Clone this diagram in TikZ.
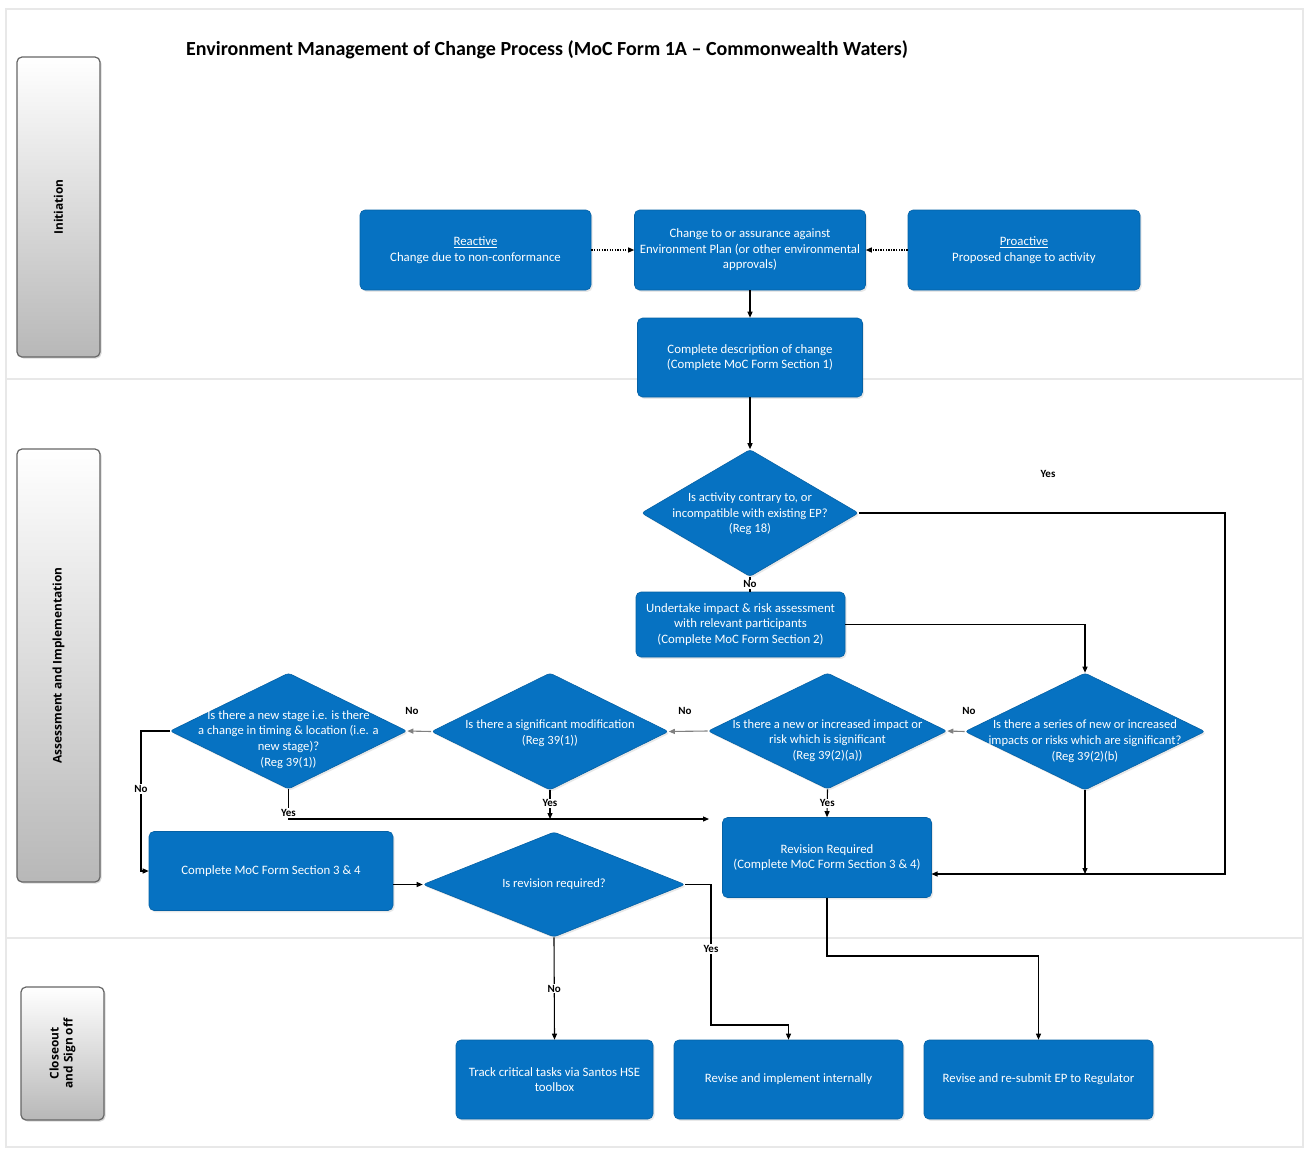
\documentclass[tikz,border=0pt]{standalone}
\usepackage{fontspec}
\setmainfont{Carlito}
\newfontfamily\lanefont{Open Sans}
\usetikzlibrary{shapes.geometric,arrows.meta,shadows}
\definecolor{boxblue}{RGB}{6,114,194}
\definecolor{laneedge}{RGB}{232,232,232}
\begin{document}
\begin{tikzpicture}[x=1pt,y=-1pt,
  bluebox/.style={rectangle, fill=boxblue, draw=boxblue!85!black, line width=0.6pt,
    rounded corners=5pt, text=white, align=center, inner sep=0pt,
    font=\fontsize{12.8}{15.5}\selectfont,
    drop shadow={shadow xshift=1.5pt, shadow yshift=-1.8pt, opacity=0.18}},
  decision/.style={diamond, fill=boxblue, draw=boxblue!85!black, line width=0.6pt,
    rounded corners=3pt, inner sep=0pt,
    drop shadow={shadow xshift=1.5pt, shadow yshift=-1.8pt, opacity=0.18}},
  dtext/.style={text=white, align=center, inner sep=0pt,
    font=\fontsize{12.6}{15.7}\selectfont},
  lanebox/.style={rectangle, rounded corners=5pt, draw=black!60, line width=1.2pt,
    top color=white, bottom color=black!28,
    drop shadow={shadow xshift=1.5pt, shadow yshift=-1.5pt, opacity=0.3}},
  lanetext/.style={rotate=90, align=center, font=\lanefont\bfseries\fontsize{11.9}{14}\selectfont},
  laneframe/.style={draw=laneedge, line width=1.2pt},
  flow/.style={draw=black, line width=1.1pt, -{Triangle[length=6pt,width=5pt]}},
  flowline/.style={draw=black, line width=1.1pt},
  greyflow/.style={draw=black!50, line width=1.1pt, -{Triangle[length=6pt,width=5pt]}},
  dotflow/.style={draw=black, line width=1.1pt, dash pattern=on 1.3pt off 1.3pt, -{Triangle[length=6pt,width=5pt]}},
  yn/.style={font=\bfseries\fontsize{11}{12}\selectfont, inner sep=1pt, fill=white},
  ynfree/.style={font=\bfseries\fontsize{11}{12}\selectfont, inner sep=1pt}
]
\useasboundingbox[fill=white] (0,0) rectangle (1304,1149);

% lanes
\draw[laneframe] (6,9) rectangle (1303,379);
\draw[laneframe] (6,379) rectangle (1303,938);
\draw[laneframe] (6,938) rectangle (1303,1147);

% lane labels
\node[lanebox, minimum width=83pt, minimum height=300pt] (L1) at (58.5,207) {};
\node[lanetext] (L1t) at (L1) {Initiation};
\node[lanebox, minimum width=83pt, minimum height=433pt] (L2) at (58.5,665.5) {};
\node[lanetext] (L2t) at (L2) {Assessment and Implementation};
\node[lanebox, minimum width=83pt, minimum height=133pt] (L3) at (62.5,1053.5) {};
\node[lanetext] (L3t) at (L3) {Closeout\\and Sign off};

% title
\node[anchor=west, inner sep=0pt, font=\bfseries\fontsize{20}{23}\selectfont] (title) at (186,50)
  {Environment Management of Change Process (MoC Form 1A – Commonwealth Waters)};

% initiation boxes
\node[bluebox, minimum width=231pt, minimum height=80pt] (reactive) at (475.5,250)
  {\underline{Reactive}\\Change due to non-conformance};
\node[bluebox, minimum width=231pt, minimum height=80pt] (change) at (750,250)
  {Change to or assurance against\\Environment Plan (or other environmental\\approvals)};
\node[bluebox, minimum width=232pt, minimum height=80pt] (proactive) at (1024,250)
  {\underline{Proactive}\\Proposed change to activity};
\node[bluebox, minimum width=225pt, minimum height=79pt] (desc) at (750,357.5)
  {Complete description of change\\(Complete MoC Form Section 1)};

% assessment
\node[decision, minimum width=217pt, minimum height=127pt] (d1) at (750,513) {};
\node[dtext] (d1t) at ([yshift=-1pt]d1.center) {Is activity contrary to, or\\incompatible with existing EP?\\(Reg 18)};
\node[bluebox, minimum width=209pt, minimum height=65pt] (assess) at (740.5,624.5)
  {Undertake impact \& risk assessment\\with relevant participants\\(Complete MoC Form Section 2)};

\node[decision, minimum width=240pt, minimum height=117pt] (d4) at (1085,731.5) {};
\node[dtext] (d4t) at ([yshift=-9.5pt]d4.center) {Is there a series of new or increased\\impacts or risks which are significant?\\(Reg 39(2)(b)};
\node[decision, minimum width=239pt, minimum height=116pt] (d3) at (827.5,731) {};
\node[dtext] (d3t) at ([yshift=-9.5pt]d3.center) {Is there a new or increased impact or\\risk which is significant\\(Reg 39(2)(a))};
\node[decision, minimum width=237pt, minimum height=117pt] (d2) at (550,731.5) {};
\node[dtext] (d2t) at ([yshift=-2pt]d2.center) {Is there a significant modification\\(Reg 39(1))};
\node[decision, minimum width=237pt, minimum height=116pt] (d0) at (288.5,731) {};
\node[dtext] (d0t) at ([yshift=-8.5pt]d0.center) {Is there a new stage i.e. is there\\a change in timing \& location (i.e. a\\new stage)?\\(Reg 39(1))};

\node[bluebox, minimum width=209pt, minimum height=80pt] (revreq) at (827,857.5)
  {Revision Required\\(Complete MoC Form Section 3 \& 4)};
\node[bluebox, minimum width=244pt, minimum height=79pt] (sec34) at (271,871)
  {Complete MoC Form Section 3 \& 4};
\node[decision, minimum width=262pt, minimum height=105pt] (d5) at (554,884.5) {};
\node[dtext] (d5t) at (d5) {Is revision required?};

% closeout
\node[bluebox, minimum width=197pt, minimum height=79pt] (track) at (554.5,1079.5)
  {Track critical tasks via Santos HSE\\toolbox};
\node[bluebox, minimum width=229pt, minimum height=79pt] (internal) at (788.5,1079.5)
  {Revise and implement internally};
\node[bluebox, minimum width=229pt, minimum height=79pt] (resubmit) at (1038.5,1079.5)
  {Revise and re-submit EP to Regulator};

% connectors
\draw[dotflow] (reactive.east) -- (change.west);
\draw[dotflow] (proactive.west) -- (change.east);
\draw[flow] (change.south) -- (desc.north);
\draw[flow] (desc.south) -- (d1.north);

\draw[flowline] (d1.south) -- (d1.south |- assess.north) node[yn, midway] (no1) {No};
\coordinate (c1) at (1225,513);
\coordinate (revin) at (931.5,874);
\draw[flow] (d1.east) -- (c1) |- (revin);
\node[ynfree] (yes1) at (1048,474) {Yes};

\draw[flow] (assess.east) -| (d4.north);
\draw[flow] (d4.south) -- (d4.south |- revin);

\draw[greyflow] (d4.west) -- (d3.east);
\node[ynfree] (no4) at (969,711) {No};
\draw[greyflow] (d3.west) -- (d2.east);
\node[ynfree] (no3) at (685,711) {No};
\draw[greyflow] (d2.west) -- (d0.east);
\node[ynfree] (no2) at (412,711) {No};

\draw[flow] (d3.south) -- (revreq.north) node[yn, pos=0.5] (yes3) {Yes};
\coordinate (yline) at (709,819);
\draw[flow] (d0.south) |- (yline);
\node[yn] (yes0) at (288.5,813) {Yes};
\draw[flow] (d2.south) -- (d2.south |- yline) node[yn, pos=0.45] (yes2) {Yes};

\coordinate (c0) at (141,731);
\draw[flow] (d0.west) -- (c0) |- (sec34.west);
\node[yn] (no0) at (141,789) {No};

\draw[flow] (sec34.east |- d5.west) -- (d5.west);

\draw[flow] (d5.south) -- (track.north) node[yn, pos=0.5] (no5) {No};
\coordinate (c5a) at (711,884.5);
\coordinate (c5b) at (711,1025);
\draw[flow] (d5.east) -- (c5a) -- (c5b) -| (internal.north);
\node[yn] (yes5) at (711,949) {Yes};
\coordinate (c6) at (827,956);
\draw[flow] (revreq.south) -- (c6) -| (resubmit.north);

\end{tikzpicture}
\end{document}
